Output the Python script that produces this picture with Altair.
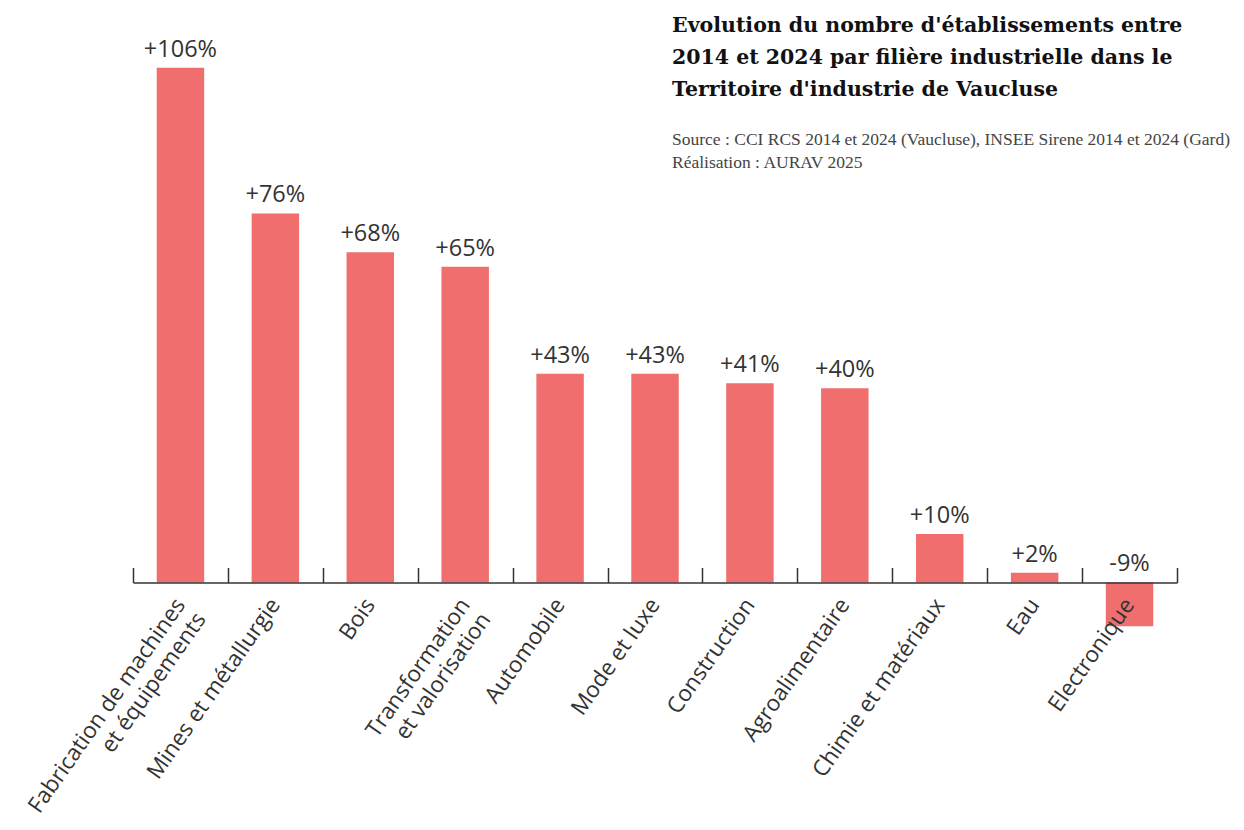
import altair as alt
import pandas as pd

categories = [
    "Fabrication de machines\net équipements",
    "Mines et métallurgie",
    "Bois",
    "Transformation\net valorisation",
    "Automobile",
    "Mode et luxe",
    "Construction",
    "Agroalimentaire",
    "Chimie et matériaux",
    "Eau",
    "Electronique",
]
values = [106, 76, 68, 65, 43, 43, 41, 40, 10, 2, -9]
value_labels = ["+106%", "+76%", "+68%", "+65%", "+43%", "+43%", "+41%", "+40%", "+10%", "+2%", "-9%"]
boundaries = list(range(len(categories) + 1))

title_lines = [
    "Evolution du nombre d'établissements entre",
    "2014 et 2024 par  filière industrielle dans le",
    "Territoire d'industrie de Vaucluse",
]
source_lines = [
    "Source : CCI RCS 2014 et 2024 (Vaucluse), INSEE Sirene 2014 et 2024 (Gard)",
    "Réalisation : AURAV 2025",
]

df = pd.DataFrame({
    "cat": categories,
    "val": values,
    "label": value_labels,
    "labelpos": [max(v, 0) for v in values],
})
bdf = pd.DataFrame({"b": boundaries})

W, H = 1044, 777
YMIN, YMAX = -45, 115
zero_px = YMAX / (YMAX - YMIN) * H

yscale = alt.Scale(domain=[YMIN, YMAX], nice=False, zero=False)
xband = alt.X(
    "cat:N", sort=None,
    scale=alt.Scale(paddingInner=0.5, paddingOuter=0.25),
    axis=alt.Axis(
        orient="bottom", offset=-(H - zero_px), title=None, domain=False, ticks=False,
        labelAngle=-55, labelAlign="right", labelBaseline="middle",
        labelExpr="split(datum.label, '\\n')",
        labelFont="Open Sans", labelFontSize=22.5, labelColor="#333333",
        labelPadding=18, labelLineHeight=25, labelLimit=400, zindex=1,
    ),
)

bars = alt.Chart(df).mark_bar(color="#F06E6E").encode(
    x=xband,
    y=alt.Y("val:Q", scale=yscale, axis=None),
)

text = alt.Chart(df).mark_text(
    font="Open Sans", fontSize=23.5, color="#333333", baseline="alphabetic", dy=-11
).encode(
    x=alt.X("cat:N", sort=None),
    y=alt.Y("labelpos:Q"),
    text="label:N",
)

main = alt.layer(bars, text)

ticks = alt.Chart(bdf).mark_point(opacity=0).encode(
    x=alt.X(
        "b:Q",
        scale=alt.Scale(domain=[0, len(categories)], nice=False, zero=False),
        axis=alt.Axis(
            orient="top", offset=-zero_px, values=boundaries, labels=False, title=None,
            grid=False, tickSize=15, tickColor="#333333", tickWidth=1.5,
            domainColor="#333333", domainWidth=1.5, zindex=1,
        ),
    ),
    y=alt.Y(datum=0, scale=yscale),
)

chart = alt.layer(main, ticks).resolve_scale(x="independent").resolve_axis(x="independent").properties(
    width=W, height=H,
    autosize=alt.AutoSizeParams(type="none"),
    padding={"left": 125, "top": 16, "right": 59, "bottom": 21},
    title=alt.TitleParams(
        text=title_lines, subtitle=source_lines, anchor="start", frame="group",
        dx=539, dy=151,
        font="DejaVu Serif", fontWeight="bold", fontSize=20.5, lineHeight=32, color="#111111",
        subtitleFont="Liberation Serif", subtitleFontSize=17.5, subtitleColor="#444444",
        subtitleLineHeight=23, subtitlePadding=30,
    ),
).configure_view(stroke=None)

chart.save("out.html", embed_options={"renderer": "svg", "actions": False})
